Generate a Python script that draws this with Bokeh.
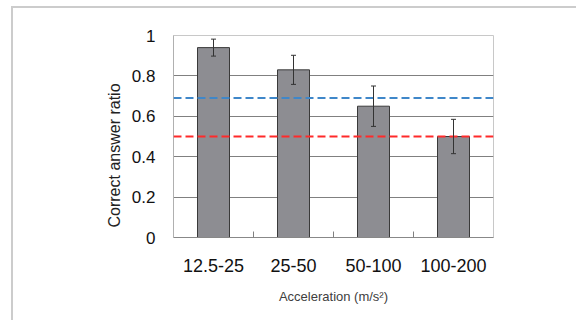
import numpy as np
from bokeh.plotting import figure
from bokeh.models import (Range1d, FixedTicker, Span, Whisker, TeeHead,
                          ColumnDataSource, InlineStyleSheet, Title)
from bokeh.embed import file_html
from bokeh.resources import INLINE

categories = ["12.5-25", "25-50", "50-100", "100-200"]
ratio = [0.94, 0.83, 0.65, 0.50]
err = [0.042, 0.072, 0.10, 0.085]
chance_blue = 0.69
chance_red = 0.50
y_ticks = [0, 0.2, 0.4, 0.6, 0.8, 1.0]
y_tick_labels = ["0", "0.2", "0.4", "0.6", "0.8", "1"]
y_title = "Correct answer ratio"
x_title = "Acceleration (m/s²)"

pos = np.arange(len(categories)) + 0.5
src = ColumnDataSource(dict(
    x=pos, top=ratio,
    upper=np.array(ratio) + np.array(err),
    lower=np.array(ratio) - np.array(err),
))

p = figure(width=568, height=312, output_backend="svg", toolbar_location=None,
           x_range=Range1d(0, len(categories)), y_range=Range1d(0, 1),
           min_border_left=173, min_border_top=35, min_border_right=75,
           min_border_bottom=75)
p.outline_line_color = "#c8c8c8"
p.outline_line_width = 1

# page frame (light grey top/left border)
p.stylesheets = [InlineStyleSheet(css=(
    ":host { position: relative; }"
    ":host::after { content: ''; position: absolute; left: 11px; top: 6px; "
    "right: -8px; bottom: -8px; border-left: 2px solid #cccccc; "
    "border-top: 2px solid #cccccc; pointer-events: none; z-index: 100; }"
))]

p.vbar(x="x", top="top", width=0.4, bottom=0, source=src,
       fill_color="#8d8d92", line_color="#3a3a3a", line_width=1)

p.add_layout(Whisker(base="x", upper="upper", lower="lower", source=src,
                     level="overlay",
                     line_color="#333333", line_width=1,
                     upper_head=TeeHead(size=5, line_color="#333333", line_width=1),
                     lower_head=TeeHead(size=5, line_color="#333333", line_width=1)))

p.add_layout(Span(location=chance_blue, dimension="width", line_color="#3f87c9",
                  line_width=2, line_dash="8 4"))
p.add_layout(Span(location=chance_red, dimension="width", line_color="#ff2a2a",
                  line_width=2, line_dash="8 4"))

# grids
p.xgrid.visible = False
p.ygrid.ticker = FixedTicker(ticks=y_ticks[1:-1])
p.ygrid.grid_line_color = "#808080"
p.ygrid.grid_line_width = 1

# x axis
xa = p.xaxis[0]
xa.ticker = FixedTicker(ticks=list(pos), minor_ticks=list(np.arange(1, len(categories))))
xa.major_label_overrides = {float(x): c for x, c in zip(pos, categories)}
xa.major_tick_line_color = None
xa.minor_tick_in = 6
xa.minor_tick_out = 0
xa.minor_tick_line_color = "#808080"
xa.axis_line_color = "#888888"
xa.major_label_text_font = "Liberation Sans"
xa.major_label_text_font_size = "18px"
xa.major_label_text_color = "#111111"
xa.major_label_standoff = 15
xa.axis_label = x_title
xa.axis_label_text_font = "Liberation Sans"
xa.axis_label_text_font_size = "13px"
xa.axis_label_text_font_style = "normal"
xa.axis_label_text_color = "#404040"
xa.axis_label_standoff = 14

# y axis
ya = p.yaxis[0]
ya.ticker = FixedTicker(ticks=y_ticks)
ya.major_label_overrides = {t: l for t, l in zip(y_ticks, y_tick_labels)}
ya.major_tick_in = 0
ya.major_tick_out = 0
ya.minor_tick_line_color = None
ya.axis_line_color = "#b0b0b0"
ya.major_label_text_font = "Liberation Sans"
ya.major_label_text_font_size = "17px"
ya.major_label_text_color = "#111111"
ya.major_label_standoff = 18

# y title as a left-side title, sitting a little below the frame centre
p.add_layout(Title(text=y_title, align="left", offset=10, standoff=12,
                   text_font="Liberation Sans", text_font_size="16px",
                   text_font_style="normal", text_color="#222222"), "left")

open("out.html", "w").write(file_html(p, INLINE))
